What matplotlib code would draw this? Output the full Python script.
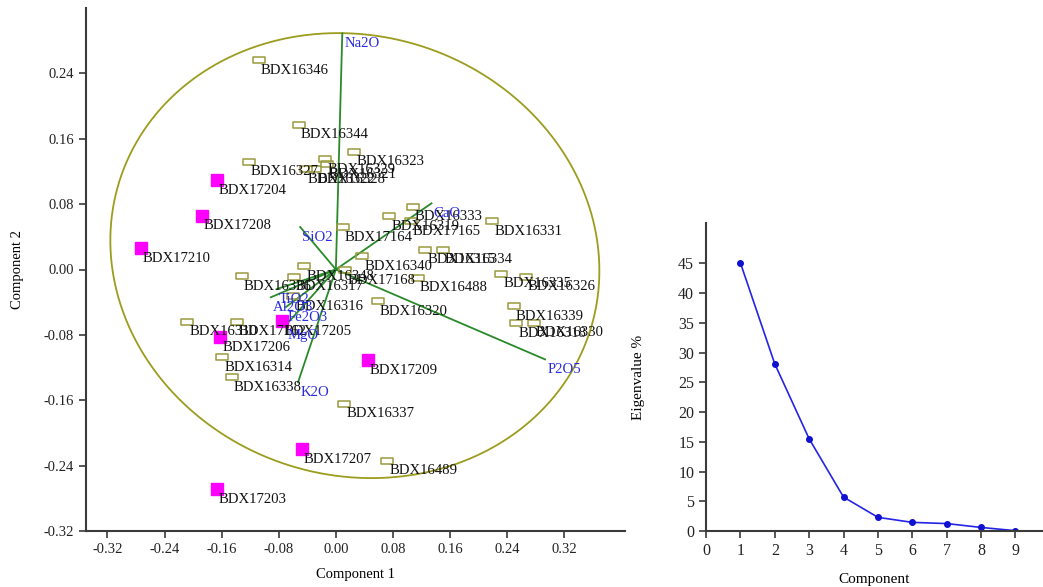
import numpy as np
import matplotlib
matplotlib.use("Agg")
import matplotlib.pyplot as plt
from matplotlib.path import Path

plt.rcParams['font.family'] = ['Liberation Serif', 'DejaVu Serif']

# ---------------- data ----------------
open_names = ["BDX16346", "BDX16344", "BDX16323", "BDX16327", "BDX16329", "BDX16321",
              "BDX16328", "BDX16322", "BDX17164", "BDX16333", "BDX16319", "BDX17165",
              "BDX16331", "BDX16315", "BDX16334", "BDX16340", "BDX17168", "BDX16348",
              "BDX16317", "BDX16336", "BDX16316", "BDX16320", "BDX16488", "BDX16335",
              "BDX16326", "BDX16339", "BDX16318", "BDX16330", "BDX16337", "BDX16489",
              "BDX16338", "BDX16314", "BDX16310", "BDX17162"]
open_pc1 = [-0.108, -0.052, 0.026, -0.122, -0.015, -0.013, -0.029, -0.042, 0.010, 0.108,
            0.075, 0.105, 0.219, 0.125, 0.150, 0.037, 0.013, -0.044, -0.059, -0.132,
            -0.060, 0.059, 0.115, 0.232, 0.266, 0.249, 0.253, 0.277, 0.012, 0.072,
            -0.146, -0.159, -0.208, -0.139]
open_pc2 = [0.256, 0.177, 0.144, 0.132, 0.135, 0.129, 0.123, 0.123, 0.052, 0.077,
            0.065, 0.059, 0.059, 0.024, 0.024, 0.016, -0.001, 0.004, -0.009, -0.008,
            -0.033, -0.039, -0.010, -0.005, -0.009, -0.045, -0.066, -0.065, -0.164, -0.234,
            -0.132, -0.107, -0.064, -0.064]

fill_names = ["BDX17204", "BDX17208", "BDX17210", "BDX17206", "BDX17205", "BDX17209",
              "BDX17207", "BDX17203"]
fill_pc1 = [-0.167, -0.188, -0.273, -0.162, -0.076, 0.045, -0.048, -0.167]
fill_pc2 = [0.109, 0.066, 0.026, -0.083, -0.063, -0.111, -0.220, -0.269]

var_names = ["Na2O", "CaO", "SiO2", "P2O5", "K2O", "TiO2", "Al2O3", "Fe2O3", "MgO"]
var_pc1 = [0.009, 0.134, -0.050, 0.293, -0.053, -0.083, -0.091, -0.070, -0.070]
var_pc2 = [0.289, 0.081, 0.052, -0.110, -0.138, -0.024, -0.034, -0.046, -0.068]

components = [1, 2, 3, 4, 5, 6, 7, 8, 9]
eigen_pct = [45.1, 28.1, 15.5, 5.7, 2.3, 1.45, 1.25, 0.6, 0.05]

xticks1 = [-0.32, -0.24, -0.16, -0.08, 0.00, 0.08, 0.16, 0.24, 0.32]
yticks1 = [-0.32, -0.24, -0.16, -0.08, 0.00, 0.08, 0.16, 0.24]

# ---------------- figure ----------------
fig = plt.figure(figsize=(10.43, 5.87), dpi=100)
W, H = 1043, 587
spine_col = '#3a3a3a'

ax1 = fig.add_axes([86 / W, 56 / H, 539 / W, 523 / H])
ax1.set_xlim(-0.35, 0.405)
ax1.set_ylim(-0.32, 0.32)

# confidence ellipse (drawn in pixel-like units, converted to data units)
cx, cy = 0.0266, 0.017
a_px, b_px, th = 247, 220, np.deg2rad(-18)
t = np.linspace(0, 2 * np.pi, 400)
u, v = a_px * np.cos(t), b_px * np.sin(t)
ex = cx + (u * np.cos(th) - v * np.sin(th)) / 714.0
ey = cy + (u * np.sin(th) + v * np.cos(th)) / 818.0
ax1.plot(ex, ey, color='#9c9c1e', lw=1.3, zorder=1)

# loading vectors
for n, x, y in zip(var_names, var_pc1, var_pc2):
    ax1.plot([0, x], [0, y], color='#2a8a2a', lw=1.3, zorder=2)

rect = Path([(-1, -0.55), (1, -0.55), (1, 0.55), (-1, 0.55), (-1, -0.55)],
            [Path.MOVETO, Path.LINETO, Path.LINETO, Path.LINETO, Path.CLOSEPOLY])
ax1.plot(open_pc1, open_pc2, linestyle='none', marker=rect, markersize=9,
         markerfacecolor='none', markeredgecolor='#9a9a40', markeredgewidth=1.1, zorder=3)
ax1.plot(fill_pc1, fill_pc2, linestyle='none', marker='s', markersize=8,
         markerfacecolor='#ff00ff', markeredgecolor='#ff00ff', zorder=3)

lab_kw = dict(textcoords='offset points', xytext=(1.5, -9.8), ha='left', va='baseline',
              fontsize=10.6, zorder=4)
for n, x, y in zip(open_names, open_pc1, open_pc2):
    ax1.annotate(n, (x, y), color='#111111', **lab_kw)
for n, x, y in zip(fill_names, fill_pc1, fill_pc2):
    ax1.annotate(n, (x, y), color='#111111', **lab_kw)
for n, x, y in zip(var_names, var_pc1, var_pc2):
    ax1.annotate(n, (x, y), color='#2b2be0', **lab_kw)

ax1.set_xticks(xticks1)
ax1.set_yticks(yticks1)
ax1.set_xticklabels([f"{v:.2f}" for v in xticks1])
ax1.set_yticklabels([f"{v:.2f}" for v in yticks1])
ax1.set_xlabel('Component 1', fontsize=10.5, labelpad=9)
ax1.set_ylabel('Component 2', fontsize=10.5, labelpad=14)

# ---------------- scree ----------------
ax2 = fig.add_axes([706 / W, 56 / H, 337 / W, 308 / H])
ax2.plot(components, eigen_pct, color='#2424e6', lw=1.2, marker='o', markersize=4,
         markerfacecolor='#1010d0', markeredgecolor='#1010d0')
ax2.set_xlim(0, 9.8)
ax2.set_ylim(0, 51.8)
ax2.set_xticks(range(0, 10))
ax2.set_yticks(range(0, 50, 5))
ax2.set_xlabel('Component', fontsize=11, labelpad=10)
ax2.set_ylabel('Eigenvalue %', fontsize=11, labelpad=24)

for ax in (ax1, ax2):
    for s in ('top', 'right'):
        ax.spines[s].set_visible(False)
    for s in ('left', 'bottom'):
        ax.spines[s].set_color(spine_col)
        ax.spines[s].set_linewidth(1.5)
    ax.tick_params(direction='out', length=5, width=1.2, color=spine_col,
                   labelcolor='#222222')
ax1.tick_params(labelsize=10.5)
ax2.tick_params(labelsize=11.5)

fig.savefig('out.png', dpi=100)
